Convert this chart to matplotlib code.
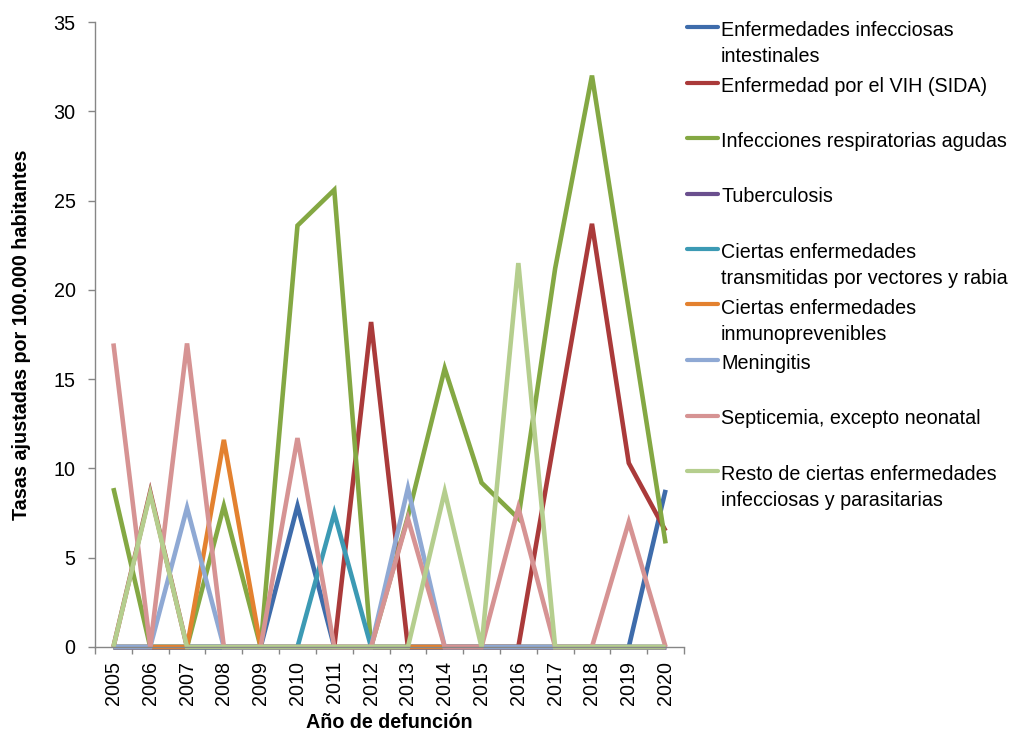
import matplotlib
matplotlib.use("Agg")
import matplotlib.pyplot as plt
from matplotlib import font_manager
from matplotlib.lines import Line2D

# ---------------- data ----------------
years = [str(y) for y in range(2005, 2021)]
intestinales = [0, 0, 0, 0, 0, 7.9, 0, 0, 0, 0, 0, 0, 0, 0, 0, 8.8]
vih = [0, 8.7, 0, 0, 0, 0, 0, 18.2, 0, 0, 0, 0, 11.9, 23.7, 10.3, 6.5]
respiratorias = [8.9, 0, 0, 7.9, 0, 23.6, 25.6, 0, 7.3, 15.6, 9.2, 7.2, 21.2, 32.0, 18.9, 5.8]
tuberculosis = [0] * 16
vectores = [0, 0, 0, 0, 0, 0, 7.5, 0, 0, 0, 0, 0, 0, 0, 0, 0]
inmunoprevenibles = [0, 0, 0, 11.6, 0, 0, 0, 0, 0, 0, 0, 0, 0, 0, 0, 0]
meningitis = [0, 0, 7.8, 0, 0, 0, 0, 0, 8.9, 0, 0, 0, 0, 0, 0, 0]
septicemia = [17.0, 0, 17.0, 0, 0, 11.7, 0, 0, 7.2, 0, 0, 7.8, 0, 0, 7.0, 0]
resto = [0, 8.6, 0, 0, 0, 0, 0, 0, 0, 8.7, 0, 21.5, 0, 0, 0, 0]

labels = [
    "Enfermedades infecciosas\nintestinales",
    "Enfermedad por el VIH (SIDA)",
    "Infecciones respiratorias agudas",
    "Tuberculosis",
    "Ciertas enfermedades\ntransmitidas por vectores y rabia",
    "Ciertas enfermedades\ninmunoprevenibles",
    "Meningitis",
    "Septicemia, excepto neonatal",
    "Resto de ciertas enfermedades\ninfecciosas y parasitarias",
]
series = [intestinales, vih, respiratorias, tuberculosis, vectores,
          inmunoprevenibles, meningitis, septicemia, resto]
colors = ["#3E6CAB", "#AA3A3A", "#84A843", "#6A4F8E", "#3C9AB4",
          "#E3812F", "#8FA9D4", "#D69393", "#B5CE8E"]

# ---------------- fonts ----------------
def available(name):
    try:
        font_manager.findfont(font_manager.FontProperties(family=name),
                              fallback_to_default=False)
        return True
    except Exception:
        return False

narrow = available("Liberation Sans Narrow")
fam = "Liberation Sans Narrow" if narrow else "Liberation Sans"
plt.rcParams["font.family"] = [fam, "DejaVu Sans"]
FS = 17 if narrow else 14.2

W, H = 1013, 737
fig = plt.figure(figsize=(W / 100, H / 100), dpi=100)
ax_l, ax_r, ax_t, ax_b = 95, 684, 22, 647
ax = fig.add_axes([ax_l / W, 1 - ax_b / H, (ax_r - ax_l) / W, (ax_b - ax_t) / H])

x = list(range(len(years)))
for vals, c in zip(series, colors):
    ax.plot(x, vals, color=c, lw=3.3, solid_joinstyle="miter", solid_capstyle="butt",
            clip_on=False)

ax.set_xlim(-0.5, len(years) - 0.5)
ax.set_ylim(0, 35)
ax.set_yticks(range(0, 36, 5))
ax.set_xticks(x)
ax.set_xticklabels(years, rotation=90, fontsize=FS)
ax.set_xticks([i - 0.5 for i in range(len(years) + 1)], minor=True)
ax.tick_params(axis="x", which="major", length=0, pad=10)
ax.tick_params(axis="x", which="minor", length=5, width=1.0, color="#868686", direction="out")
ax.tick_params(axis="y", which="major", length=5, width=1.0, color="#868686",
               direction="out", pad=9, labelsize=FS)
for s in ["top", "right"]:
    ax.spines[s].set_visible(False)
for s in ["left", "bottom"]:
    ax.spines[s].set_color("#868686")
    ax.spines[s].set_linewidth(1.0)

fig.text(22 / W, 1 - 335 / H, "Tasas ajustadas por 100.000 habitantes", rotation=90,
         ha="center", va="center", fontsize=FS, fontweight="bold")
fig.text(389 / W, 1 - 723 / H, "Año de defunción", ha="center", va="center",
         fontsize=FS, fontweight="bold")

# ---------------- legend ----------------
y0, dy = 27, 55.5
for i, (lab, c) in enumerate(zip(labels, colors)):
    yh = y0 + i * dy
    fig.add_artist(Line2D([687 / W, 718 / W], [1 - yh / H, 1 - yh / H], color=c, lw=3.0,
                          transform=fig.transFigure, solid_capstyle="round"))
    for j, line in enumerate(lab.split("\n")):
        fig.text(721 / W, 1 - (yh + 9 + 26 * j) / H, line, ha="left", va="baseline",
                 fontsize=FS)

fig.savefig("out.png", dpi=100)
